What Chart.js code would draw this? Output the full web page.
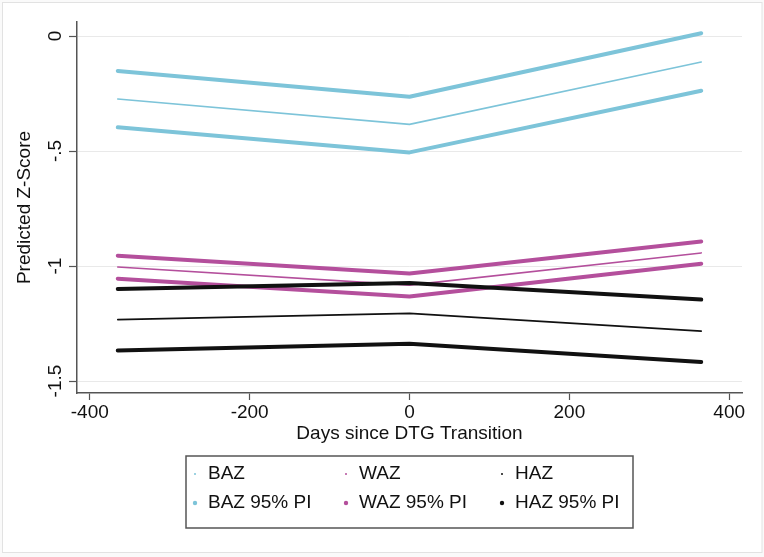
<!DOCTYPE html>
<html>
<head>
<meta charset="utf-8">
<title>Predicted Z-Score</title>
<script src="https://cdn.jsdelivr.net/npm/chart.js@4"></script>
<style>
    body { margin: 0; background: #fafafa; }
    #wrap { position: absolute; left: 0; top: 0; width: 764px; height: 557px; }
</style>
</head>
<body>
<div id="wrap"><canvas id="zChart" width="764" height="557"></canvas></div>
<script>
// Predicted z-scores around the DTG transition

const days = [-365, 0, 365];

const bazMean = [-0.274, -0.384, -0.113];
const bazUpper = [-0.152, -0.264, 0.012];
const bazLower = [-0.397, -0.506, -0.238];

const wazMean = [-1.004, -1.083, -0.943];
const wazUpper = [-0.955, -1.032, -0.893];
const wazLower = [-1.055, -1.132, -0.990];

const hazMean = [-1.233, -1.206, -1.283];
const hazUpper = [-1.100, -1.074, -1.146];
const hazLower = [-1.367, -1.338, -1.417];

const measures = ['BAZ', 'WAZ', 'HAZ'];
const xTicks = [-400, -200, 0, 200, 400];
const yTicks = [0, -0.5, -1, -1.5];
const yTickLabels = ['0', '-.5', '-1', '-1.5'];

const colors = { BAZ: '#7dc4d9', WAZ: '#b44f9c', HAZ: '#111111' };
const FONT = "'Liberation Sans', Arial, Helvetica, sans-serif";
const TEXT = '#111111';

function toPoints(values) {
    return values.map((v, i) => ({ x: days[i], y: v }));
}

function line(label, values, color, width) {
    return {
        label: label,
        data: toPoints(values),
        borderColor: color,
        backgroundColor: color,
        borderWidth: width,
        borderCapStyle: 'round',
        borderJoinStyle: 'round',
        pointRadius: 0,
        tension: 0,
        fill: false
    };
}

// same drawing order as the original: means first, intervals on top
const datasets = [
    line('BAZ', bazMean, colors.BAZ, 1.6),
    line('WAZ', wazMean, colors.WAZ, 1.6),
    line('HAZ', hazMean, colors.HAZ, 1.6),
    line('BAZ 95% PI', bazUpper, colors.BAZ, 4),
    line('BAZ 95% PI', bazLower, colors.BAZ, 4),
    line('WAZ 95% PI', wazUpper, colors.WAZ, 4),
    line('WAZ 95% PI', wazLower, colors.WAZ, 4),
    line('HAZ 95% PI', hazUpper, colors.HAZ, 4),
    line('HAZ 95% PI', hazLower, colors.HAZ, 4)
];
datasets.forEach((d, i) => { d.order = datasets.length - i; });

// white page with a faint outer frame
const framePlugin = {
    id: 'frame',
    beforeDraw(chart) {
        const ctx = chart.ctx;
        ctx.save();
        ctx.fillStyle = '#ffffff';
        ctx.fillRect(2, 2, 760, 551);
        ctx.strokeStyle = '#e2e2e2';
        ctx.lineWidth = 1;
        ctx.strokeRect(2.5, 2.5, 759.5, 550);
        ctx.restore();
    }
};

// vertical y tick labels, Stata style
const yLabelPlugin = {
    id: 'yLabels',
    afterDraw(chart) {
        const ctx = chart.ctx;
        const y = chart.scales.y;
        ctx.save();
        ctx.font = '19px ' + FONT;
        ctx.fillStyle = TEXT;
        ctx.textAlign = 'center';
        ctx.textBaseline = 'middle';
        yTicks.forEach((v, i) => {
            ctx.save();
            ctx.translate(y.right - 21, y.getPixelForValue(v));
            ctx.rotate(-Math.PI / 2);
            ctx.fillText(yTickLabels[i], 0, 0);
            ctx.restore();
        });
        ctx.restore();
    }
};

// boxed legend under the plot, three columns
const legendPlugin = {
    id: 'boxLegend',
    afterDraw(chart) {
        const ctx = chart.ctx;
        const area = chart.chartArea;
        const boxW = 447, boxH = 72;
        const left = (area.left + area.right) / 2 - boxW / 2;
        const top = chart.scales.x.bottom + 11;

        ctx.save();
        ctx.strokeStyle = '#555555';
        ctx.lineWidth = 1.5;
        ctx.strokeRect(left, top, boxW, boxH);

        ctx.font = '19px ' + FONT;
        ctx.textAlign = 'left';
        ctx.textBaseline = 'middle';
        const colX = [9, 160, 316];
        const rowY = [18, 47];
        measures.forEach((m, c) => {
            ['', ' 95% PI'].forEach((suffix, r) => {
                const cx = left + colX[c];
                const cy = top + rowY[r];
                ctx.beginPath();
                ctx.fillStyle = colors[m];
                ctx.arc(cx, cy, r === 0 ? 1 : 2.2, 0, Math.PI * 2);
                ctx.fill();
                ctx.fillStyle = TEXT;
                ctx.fillText(m + suffix, cx + 13, cy);
            });
        });
        ctx.restore();
    }
};

new Chart(document.getElementById('zChart'), {
    type: 'line',
    data: { datasets: datasets },
    options: {
        responsive: false,
        animation: false,
        layout: {
            padding: { top: 22, right: 22, bottom: 112, left: 0 }
        },
        plugins: {
            legend: { display: false },
            tooltip: { enabled: false }
        },
        scales: {
            x: {
                type: 'linear',
                min: -416,
                max: 416,
                afterBuildTicks: s => { s.ticks = xTicks.map(v => ({ value: v })); },
                afterFit: s => { s.height = 52; },
                grid: {
                    drawOnChartArea: false,
                    drawTicks: true,
                    tickLength: 7,
                    tickColor: '#555555',
                    tickWidth: 1.2
                },
                border: { color: '#555555', width: 1.5 },
                ticks: {
                    padding: 1.5,
                    color: TEXT,
                    font: { family: FONT, size: 19 },
                    maxRotation: 0,
                    callback: v => String(v)
                },
                title: {
                    display: true,
                    text: 'Days since DTG Transition',
                    color: TEXT,
                    font: { family: FONT, size: 19 },
                    padding: { top: 0, bottom: 0 }
                }
            },
            y: {
                type: 'linear',
                min: -1.552,
                max: 0.061,
                afterBuildTicks: s => { s.ticks = yTicks.map(v => ({ value: v })); },
                afterFit: s => { s.width = 77; },
                grid: {
                    color: '#e9e9e9',
                    lineWidth: 1,
                    drawTicks: true,
                    tickLength: 8,
                    tickColor: '#555555',
                    tickWidth: 1.2
                },
                border: { color: '#555555', width: 1.5 },
                ticks: { display: false },
                title: {
                    display: true,
                    text: 'Predicted Z-Score',
                    color: TEXT,
                    font: { family: FONT, size: 19 },
                    padding: { top: 13.5, bottom: 0 }
                }
            }
        }
    },
    plugins: [framePlugin, yLabelPlugin, legendPlugin]
});
</script>
</body>
</html>
